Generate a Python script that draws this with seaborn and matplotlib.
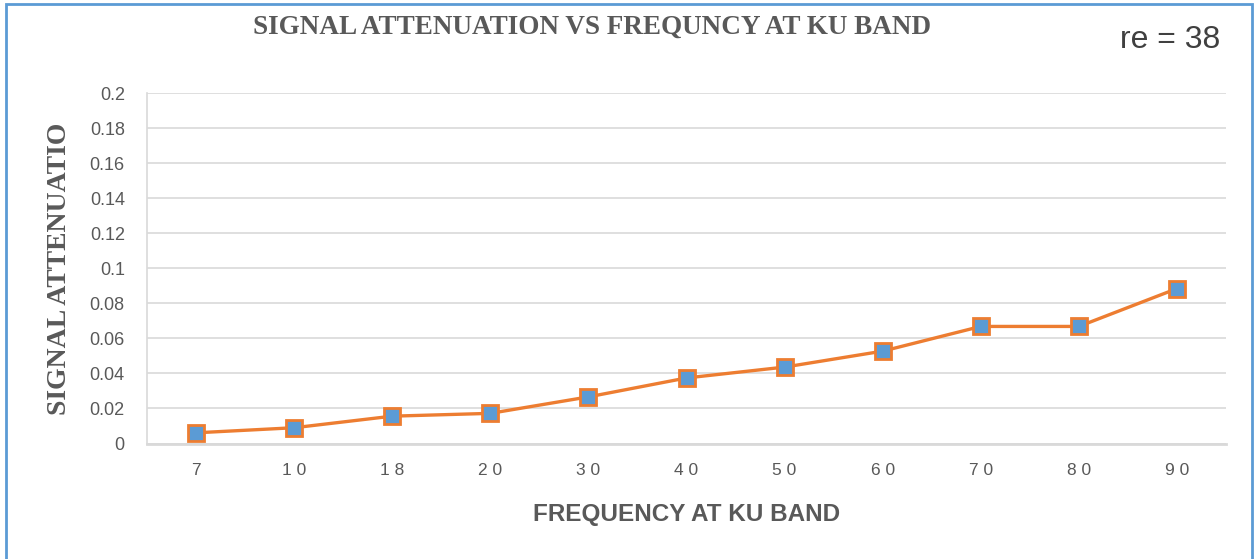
import matplotlib
matplotlib.use("Agg")
import matplotlib.pyplot as plt
import seaborn as sns
import pandas as pd
from matplotlib.patches import Rectangle

frequencies = ["7", "10", "18", "20", "30", "40", "50", "60", "70", "80", "90"]
attenuation = [0.0061, 0.0090, 0.0156, 0.0172, 0.0266, 0.0374, 0.0436, 0.0527, 0.0668, 0.0668, 0.0884]
y_ticks = [0, 0.02, 0.04, 0.06, 0.08, 0.1, 0.12, 0.14, 0.16, 0.18, 0.2]
y_tick_labels = ["0", "0.02", "0.04", "0.06", "0.08", "0.1", "0.12", "0.14", "0.16", "0.18", "0.2"]
title = "SIGNAL ATTENUATION VS FREQUNCY AT KU BAND"
annotation = "re = 38"
x_label = "FREQUENCY AT KU BAND"
y_label = "SIGNAL ATTENUATIO"

df = pd.DataFrame({"freq": frequencies, "att": attenuation})

sns.set_theme(style="white")
plt.rcParams['font.family'] = ['Liberation Sans', 'DejaVu Sans']

fig = plt.figure(figsize=(12.56, 5.59), dpi=100)
ax = fig.add_axes([147/1256, 1-443.5/559, (1226-147)/1256, (443.5-93)/559])

sns.pointplot(data=df, x="freq", y="att", order=frequencies, ax=ax,
              color="#ED7D31", markers="s", linestyles="-",
              markersize=11, markerfacecolor="#5B9BD5", markeredgecolor="#ED7D31",
              markeredgewidth=2, linewidth=2.4, errorbar=None)

ax.set_xlim(-0.5, len(frequencies) - 0.5)
ax.set_ylim(0, 0.2)
ax.set_yticks(y_ticks)
ax.set_yticklabels(y_tick_labels)
ax.yaxis.grid(True, color="#d9d9d9", linewidth=1.2)
ax.xaxis.grid(False)
ax.set_axisbelow(True)
ax.tick_params(axis="both", length=0)
ax.tick_params(axis="y", labelsize=13, labelcolor="#595959", pad=16)
ax.tick_params(axis="x", labelsize=12.5, labelcolor="#595959", pad=14)
ax.set_xticks(range(len(frequencies)))
ax.set_xticklabels([" ".join(f) for f in frequencies])

for s in ["top", "right"]:
    ax.spines[s].set_visible(False)
ax.spines["left"].set_color("#d9d9d9")
ax.spines["left"].set_linewidth(1.2)
ax.spines["bottom"].set_color("#d9d9d9")
ax.spines["bottom"].set_linewidth(2)

ax.set_xlabel(x_label, fontsize=17.5, fontweight="bold", color="#595959", labelpad=18)
ax.set_ylabel("")
fig.text(60/1256, 1-269/559, y_label, rotation=90, ha="center", va="center",
         fontsize=20, fontweight="bold", color="#595959",
         family=["Liberation Serif", "DejaVu Serif"])

fig.text(592/1256, 1-27/559, title, ha="center", va="center",
         fontsize=19.5, fontweight="bold", color="#595959",
         family=["Liberation Serif", "DejaVu Serif"])
fig.text(1220/1256, 1-40/559, annotation, ha="right", va="center",
         fontsize=23, color="#404040")

fig.add_artist(Rectangle((6/1256, -0.05), (1252-6)/1256, 1.05 - 4/559,
                         transform=fig.transFigure, fill=False,
                         edgecolor="#5B9BD5", linewidth=2))

fig.savefig("out.png", dpi=100, facecolor="white")
